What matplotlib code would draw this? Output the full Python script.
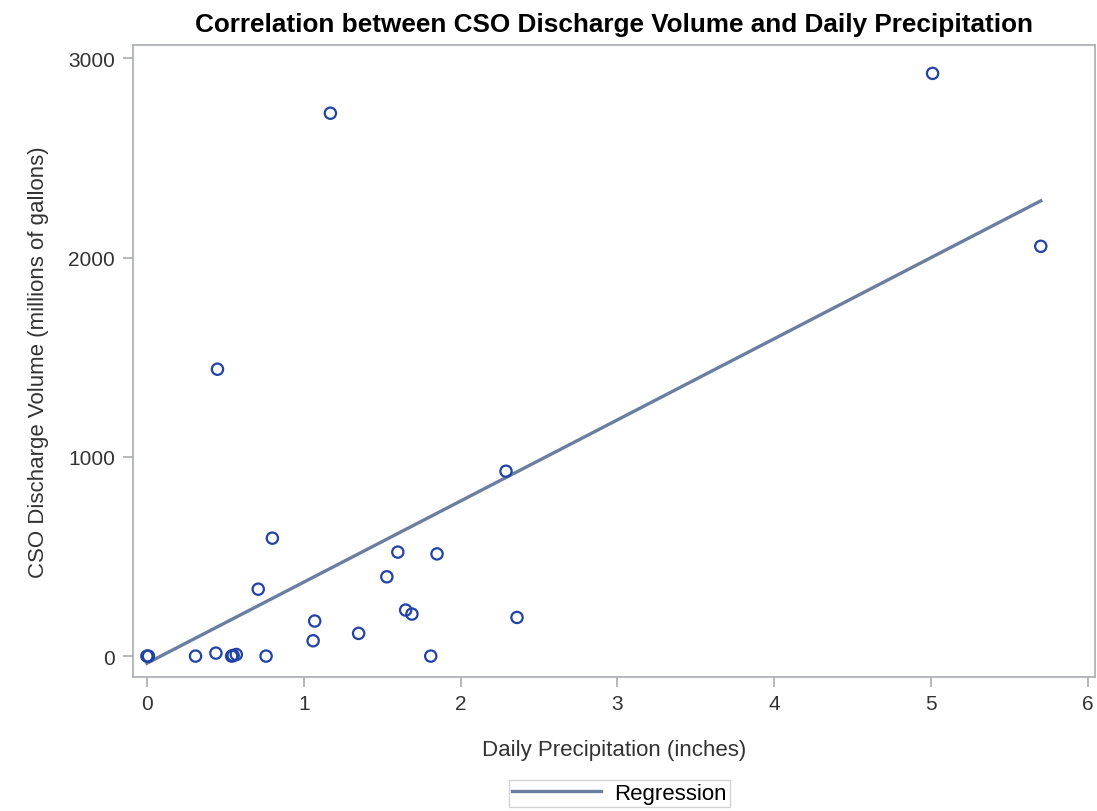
import numpy as np
import matplotlib.pyplot as plt

plt.rcParams['font.family'] = ['Liberation Sans', 'DejaVu Sans']

# valores
precip = [0.0, 0.01, 0.31, 0.44, 0.54, 0.55, 0.57, 0.76, 0.71, 0.80, 0.45, 1.17,
          1.06, 1.07, 1.35, 1.53, 1.60, 1.65, 1.69, 1.81, 1.85, 2.29, 2.36, 5.01, 5.70]
volumen = [0, 0, 0, 15, 0, 3, 8, 0, 336, 592, 1440, 2725,
           77, 176, 114, 398, 522, 231, 211, 0, 513, 928, 194, 2925, 2057]

x = np.array(precip)
y = np.array(volumen)
# recta de regresion por minimos cuadrados
pendiente, intercepto = np.polyfit(x, y, 1)

fig = plt.figure(figsize=(10.97, 8.12), dpi=100)
ax = fig.add_axes([0.1212, 0.165, 0.877, 0.778])

xl = np.array([x.min(), x.max()])
ax.plot(xl, intercepto + pendiente * xl, color='#6a7fa0', linewidth=2.4, label='Regression', zorder=2)
ax.scatter(x, y, s=66, facecolors='none', edgecolors='#2243a6', linewidths=1.6, zorder=3)

ax.set_xlim(-0.089, 6.046)
ax.set_ylim(-105, 3066)
ax.set_xticks([0, 1, 2, 3, 4, 5, 6])
ax.set_yticks([0, 1000, 2000, 3000])

for s in ax.spines.values():
    s.set_color('#a8acb0')
    s.set_linewidth(1.2)
ax.tick_params(colors='#a8acb0', labelcolor='#333333', labelsize=15, length=7, width=1.2)
ax.tick_params(axis='y', pad=6)
ax.tick_params(axis='x', pad=5)

ax.set_xlabel('Daily Precipitation (inches)', fontsize=16, color='#333333', labelpad=19)
ax.set_ylabel('CSO Discharge Volume (millions of gallons)', fontsize=16, color='#333333', labelpad=14)
ax.set_title('Correlation between CSO Discharge Volume and Daily Precipitation',
             fontsize=18.8, fontweight='bold', pad=10)

leg = ax.legend(loc='upper center', bbox_to_anchor=(0.506, -0.145), frameon=True, fancybox=False,
                fontsize=16, handlelength=4, borderpad=0.15, handletextpad=0.6)
leg.get_frame().set_edgecolor('#c8c8c8')

plt.savefig('out.png', dpi=100)
